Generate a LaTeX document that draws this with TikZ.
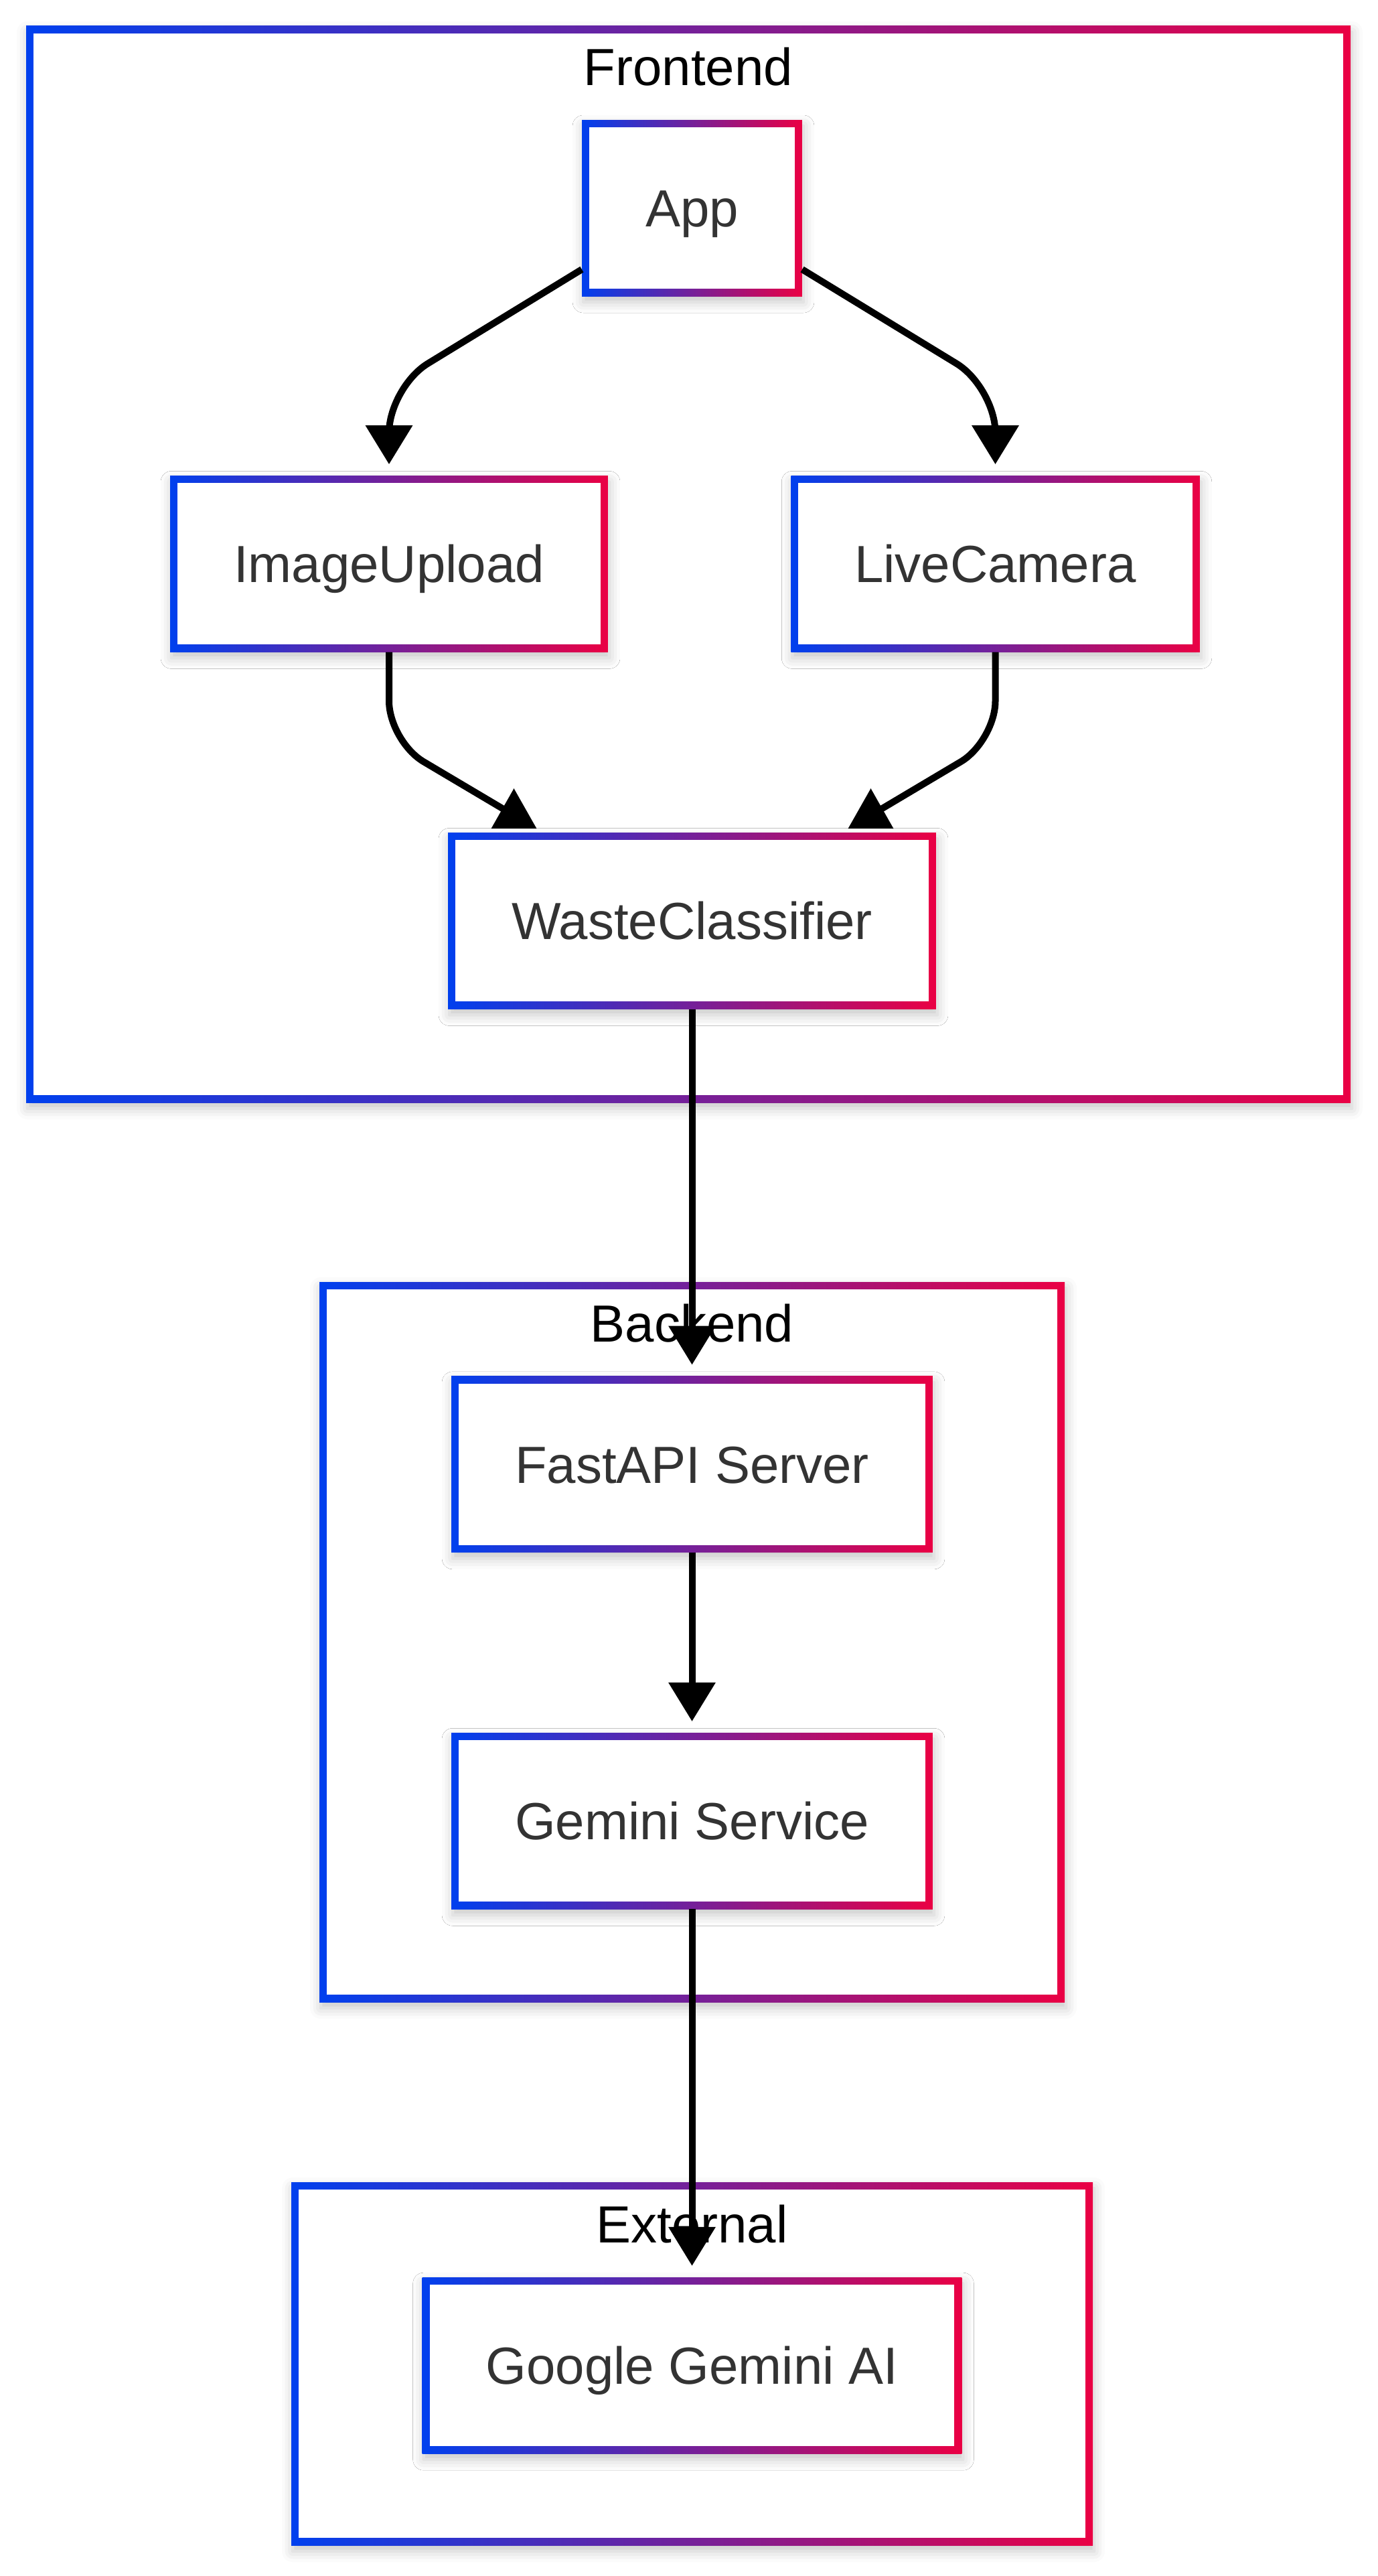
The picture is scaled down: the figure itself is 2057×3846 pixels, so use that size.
\documentclass[tikz,border=0pt]{standalone}
\usepackage{fontspec}
\setmainfont{Liberation Sans}
\usepackage{tikz}
\usetikzlibrary{positioning, arrows.meta, calc, shadows.blur}

\definecolor{edgeblue}{RGB}{0,64,238}
\definecolor{edgered}{RGB}{234,0,68}
\definecolor{boxtext}{RGB}{51,51,51}

\tikzset{
	gradframe/.style={rectangle, inner sep=0pt, left color=edgeblue, right color=edgered,
		blur shadow={shadow xshift=2pt, shadow yshift=-9pt, shadow blur radius=16pt, shadow opacity=22},
		path picture={\fill[white] ([shift={(11pt,-11pt)}]path picture bounding box.north west)
			rectangle ([shift={(-11pt,11pt)}]path picture bounding box.south east);}},
	box/.style={gradframe, minimum height=263pt, inner xsep=95pt, text height=56pt, text depth=0pt,
		font=\fontsize{78}{94}\selectfont, text=boxtext},
	cluster/.style={gradframe},
	cluster title/.style={anchor=base, font=\fontsize{78}{94}\selectfont, text=black},
	link/.style={line width=10pt},
	flow/.style={link, -{Triangle[width=68pt,length=58pt]}, shorten >=17pt},
	uphead/.pic={\fill (0pt,40pt) -- (-34pt,-20pt) -- (34pt,-20pt) -- cycle;},
}

\begin{document}
\begin{tikzpicture}[x=1pt, y=-1pt, node distance=268pt]
		\useasboundingbox (0,0) rectangle (2057,3846);
		
		% subgraphs
		\node[cluster, minimum width=1978pt, minimum height=1607pt] (frontend) at (1028,842.5) {};
		\node[cluster, minimum width=1113pt, minimum height=1075pt] (backend) at (1033.5,2451.5) {};
		\node[cluster, minimum width=1197pt, minimum height=542pt] (external) at (1033.5,3529) {};
		\node[cluster title] (frontendlbl) at ([yshift=-89pt]frontend.north) {Frontend};
		\node[cluster title] (backendlbl) at ([yshift=-90pt]backend.north) {Backend};
		\node[cluster title] (externallbl) at ([yshift=-91pt]external.north) {External};
		
		% components
		\node[box] (app) at (1033.5,310.5) {App};
		\node[box, below=of app, xshift=-452.5pt] (upload) {ImageUpload};
		\node[box, below=of app, xshift=453pt] (camera) {LiveCamera};
		\node[box, below=801pt of app] (classifier) {WasteClassifier};
		\node[box, below=548pt of classifier] (fastapi) {FastAPI Server};
		\node[box, below=269pt of fastapi] (gemsvc) {Gemini Service};
		\node[box, below=549.5pt of gemsvc] (geminiai) {Google Gemini AI};
		
		\coordinate (headL) at ($(classifier.north)+(-266pt,26pt)$);
		\coordinate (headR) at ($(classifier.north)+(267pt,26pt)$);
		
		\draw[flow, rounded corners=68pt] ([yshift=40pt]app.south west) -- ($(upload.north)+(0,132pt)$) -- (upload.north);
		\draw[flow, rounded corners=68pt] ([yshift=40pt]app.south east) -- ($(camera.north)+(0,132pt)$) -- (camera.north);
		\draw[link, rounded corners=60pt] (upload.south) -- ($(upload.south)+(0,-133pt)$) -- (headL);
		\draw[link, rounded corners=60pt] (camera.south) -- ($(camera.south)+(0,-133pt)$) -- (headR);
		\pic at (headL) {uphead};
		\pic at (headR) {uphead};
		\draw[flow] (classifier) -- (fastapi);
		\draw[flow] (fastapi) -- (gemsvc);
		\draw[flow] (gemsvc) -- (geminiai);
		
\end{tikzpicture}
\end{document}
